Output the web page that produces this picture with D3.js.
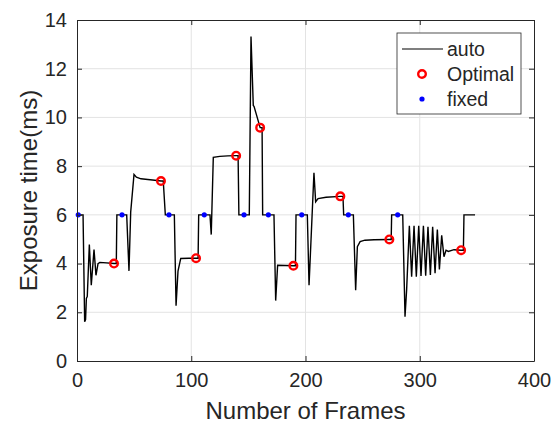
<!DOCTYPE html>
<meta charset="utf-8">
<style>
    body { margin: 0; background: #fff; }
    .line {
        fill: none;
        stroke: #000;
        stroke-width: 1.4;
    }
    text { font-family: "Liberation Sans", Arial, sans-serif; fill: #262626; }
</style>
<svg width="555" height="426"></svg>
<script src="https://d3js.org/d3.v7.min.js"></script>
<script>

    // auto exposure trace (frame, ms)
    var autoFrames = [0, 5.3, 6.7, 7.5, 8.2, 9.0, 10.8, 12.5, 14.9, 16.6, 18.4, 20, 26, 32.4, 34.4, 34.9,
        43.5, 45.5, 47, 49.9, 52, 56, 62, 68, 73.5, 75.5, 77.3,
        85.2, 86.7, 88.4, 90.8, 98, 104.2, 106, 106.5,
        116.4, 117.5, 119.3, 125, 132, 139.3, 141, 141.7,
        150.8, 152.3, 154.3, 155, 160.3, 162, 162.5,
        172.4, 173.9, 175.6, 189.4, 191.2, 191.7,
        201.6, 203.1, 207.4, 208.9, 211, 218, 230.5, 232.8, 233.4,
        241.9, 243.9, 245.4, 247.8, 252, 260, 273.4, 275, 275.4,
        285.1, 287.1, 288.5, 290.9, 292.9, 295.0, 297.0, 299.1, 301.1, 303.2, 305.2, 307.2, 309.3,
        311.3, 313.4, 315.4, 317.2, 319.2, 321.2, 323, 325, 330, 336.2, 338.2, 338.7, 348.4];
    var autoValues = [6.0, 6.0, 1.61, 1.7, 2.57, 2.65, 4.78, 3.11, 4.58, 3.52, 4.0, 4.05, 4.03, 4.0, 4.0, 6.0,
        6.0, 3.70, 6.12, 7.66, 7.55, 7.48, 7.45, 7.42, 7.39, 7.39, 6.0,
        6.0, 2.27, 3.69, 4.21, 4.22, 4.22, 4.22, 6.0,
        6.0, 5.19, 8.36, 8.40, 8.42, 8.43, 8.43, 6.0,
        6.0, 13.32, 10.49, 10.45, 9.58, 9.58, 6.0,
        6.0, 2.48, 3.93, 3.91, 3.91, 6.0,
        6.0, 3.11, 7.73, 6.54, 6.67, 6.72, 6.76, 6.76, 6.0,
        6.0, 2.91, 4.69, 4.90, 4.96, 4.98, 4.99, 4.99, 6.0,
        6.0, 1.82, 2.91, 5.55, 3.46, 5.55, 3.46, 5.55, 3.49, 5.55, 3.50, 5.51, 3.53,
        5.51, 3.60, 5.40, 3.76, 5.16, 4.28, 4.55, 4.50, 4.57, 4.55, 4.55, 6.0, 6.0];

    var optimalFrames = [32.4, 73.5, 104.2, 139.3, 160.3, 189.4, 230.5, 273.4, 336.2];
    var optimalValues = [4.0, 7.39, 4.22, 8.43, 9.58, 3.91, 6.76, 4.99, 4.55];

    var fixedFrames = [1.1, 39.4, 80.5, 111.4, 146.2, 167.5, 196.7, 237.5, 280.7];
    var fixedValues = [6, 6, 6, 6, 6, 6, 6, 6, 6];

    var xTicks = [0, 100, 200, 300, 400];
    var yTicks = [0, 2, 4, 6, 8, 10, 12, 14];
    var legendLabels = ["auto", "Optimal", "fixed"];

    var svg = d3.select("svg"),
        margin = { top: 20, right: 21, bottom: 65, left: 77 },
        width = +svg.attr("width") - margin.left - margin.right,
        height = +svg.attr("height") - margin.top - margin.bottom,
        g = svg.append("g").attr("transform", "translate(" + margin.left + "," + margin.top + ")");

    var x = d3.scaleLinear().domain([0, 400]).range([0, width]);
    var y = d3.scaleLinear().domain([0, 14]).range([height, 0]);

    // grid
    g.append("g").selectAll("line").data(xTicks.slice(1, -1)).join("line")
        .attr("x1", d => x(d)).attr("x2", d => x(d))
        .attr("y1", 0).attr("y2", height)
        .attr("stroke", "#e3e3e3");
    g.append("g").selectAll("line").data(yTicks.slice(1, -1)).join("line")
        .attr("y1", d => y(d)).attr("y2", d => y(d))
        .attr("x1", 0).attr("x2", width)
        .attr("stroke", "#e3e3e3");

    // data
    var autoData = autoFrames.map((f, i) => [f, autoValues[i]]);
    var line = d3.line().x(d => x(d[0])).y(d => y(d[1]));
    g.append("path").datum(autoData).attr("class", "line").attr("d", line);

    g.append("g").selectAll("circle").data(fixedFrames).join("circle")
        .attr("cx", d => x(d)).attr("cy", (d, i) => y(fixedValues[i]))
        .attr("r", 2.6).attr("fill", "#0000ff");

    g.append("g").selectAll("circle").data(optimalFrames).join("circle")
        .attr("cx", d => x(d)).attr("cy", (d, i) => y(optimalValues[i]))
        .attr("r", 3.8).attr("fill", "none").attr("stroke", "#ff0000").attr("stroke-width", 2.4);

    // axes, ticks pointing inward like matlab
    function style(sel) {
        sel.selectAll(".domain").attr("stroke", "#262626");
        sel.selectAll(".tick line").attr("stroke", "#262626");
        sel.selectAll("text").attr("font-size", 20).attr("fill", "#262626")
            .attr("font-family", "Liberation Sans, Arial, sans-serif");
    }
    g.append("g").attr("transform", "translate(0," + height + ")")
        .call(d3.axisBottom(x).tickValues(xTicks).tickSizeInner(-5).tickSizeOuter(0).tickPadding(12))
        .call(style);
    g.append("g")
        .call(d3.axisTop(x).tickValues(xTicks).tickSizeInner(-5).tickSizeOuter(0).tickFormat(""))
        .call(style);
    g.append("g")
        .call(d3.axisLeft(y).tickValues(yTicks).tickSizeInner(-5).tickSizeOuter(0).tickPadding(10))
        .call(style);
    g.append("g").attr("transform", "translate(" + width + ",0)")
        .call(d3.axisRight(y).tickValues(yTicks).tickSizeInner(-5).tickSizeOuter(0).tickFormat(""))
        .call(style);

    // axis titles
    svg.append("text")
        .attr("x", margin.left + width / 2).attr("y", 419)
        .attr("text-anchor", "middle").attr("font-size", 24)
        .text("Number of Frames");
    svg.append("text")
        .attr("transform", "translate(37," + (margin.top + height / 2) + ") rotate(-90)")
        .attr("text-anchor", "middle").attr("font-size", 24)
        .text("Exposure time(ms)");

    // legend
    var lg = svg.append("g").attr("transform", "translate(397,33)");
    lg.append("rect").attr("width", 124).attr("height", 81)
        .attr("fill", "#fff").attr("stroke", "#262626").attr("stroke-width", 0.8);
    var rows = lg.selectAll(".row").data(legendLabels).join("g")
        .attr("transform", (d, i) => "translate(0," + (16 + i * 25) + ")");
    rows.append("text").attr("x", 50).attr("dy", "0.35em").attr("font-size", 19.5).text(d => d);
    rows.filter((d, i) => i === 0).append("line")
        .attr("x1", 5).attr("x2", 46).attr("stroke", "#000").attr("stroke-width", 1.2);
    rows.filter((d, i) => i === 1).append("circle")
        .attr("cx", 25).attr("r", 3.8).attr("fill", "none").attr("stroke", "#ff0000").attr("stroke-width", 2.4);
    rows.filter((d, i) => i === 2).append("circle")
        .attr("cx", 25).attr("r", 2.6).attr("fill", "#0000ff");

</script>
